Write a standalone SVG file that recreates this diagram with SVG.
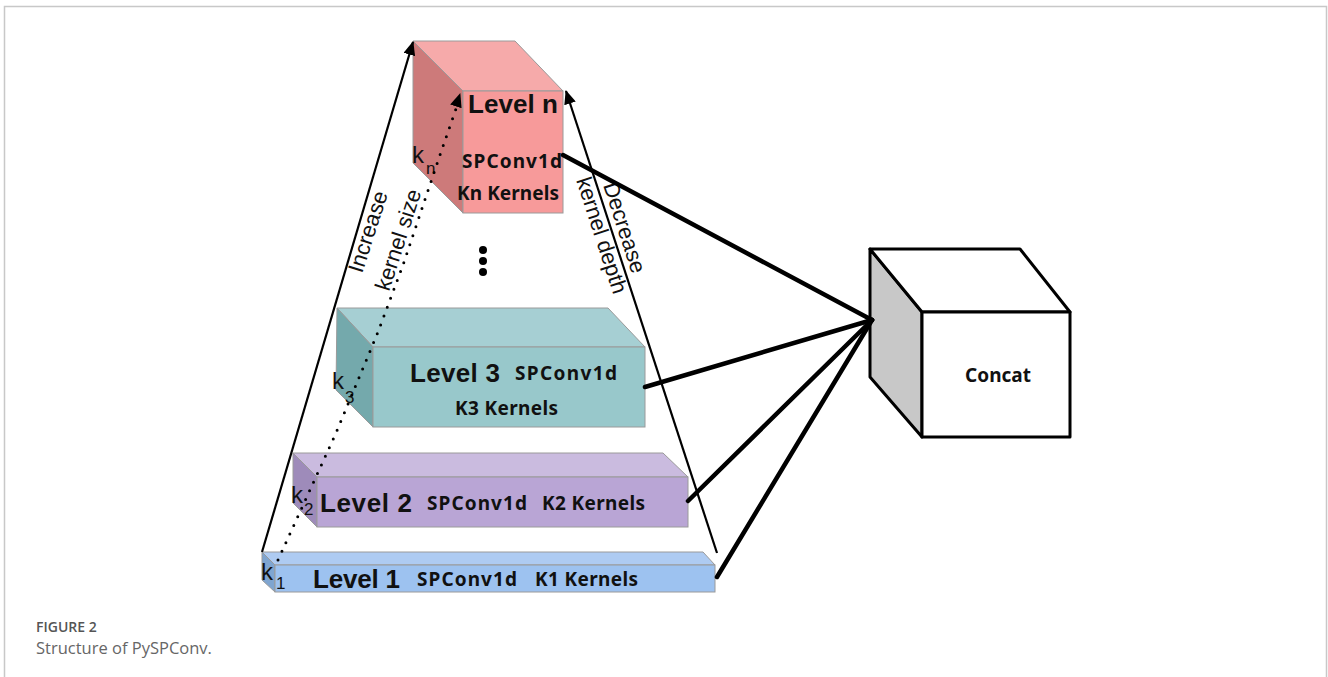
<svg xmlns="http://www.w3.org/2000/svg" width="1328" height="677" viewBox="0 0 1328 677">
<style>
.lv{font-family:"Liberation Sans",Arial,sans-serif;font-weight:bold;font-size:26px;fill:#111}
.sp{font-family:"Noto Sans","Open Sans",sans-serif;font-weight:bold;font-size:19px;fill:#111}
.k{font-family:"Liberation Sans",Arial,sans-serif;font-size:24px;fill:#111}
.ks{font-family:"Liberation Sans",Arial,sans-serif;font-size:17px;fill:#111}
.rot{font-family:"Liberation Sans",Arial,sans-serif;font-size:22px;fill:#111}
.edge{stroke:#9a9a9a;stroke-width:1}
.conn{stroke:#000;stroke-width:4.5;stroke-linecap:round;fill:none}
.arr{stroke:#000;stroke-width:2.2;fill:none}
.cube{stroke:#000;stroke-width:3;stroke-linejoin:round}
</style>
<defs>
<marker id="ah" markerUnits="userSpaceOnUse" viewBox="0 0 14 12" refX="13" refY="6" markerWidth="14" markerHeight="12" orient="auto">
<path d="M0,0 L14,6 L0,12 z" fill="#000"/>
</marker>
</defs>
<rect width="1328" height="677" fill="#fff"/>
<path d="M4.5,677 L4.5,6.5 L1326.5,6.5 L1326.5,677" fill="none" stroke="#c8c8c8" stroke-width="1.5"/>

<g id="level1">
<polygon class="edge" points="262,552 703,552 715,565 275,565" fill="#aecbf2"/>
<polygon class="edge" points="262,552 275,565 275,592 262,580" fill="#7fa5d0"/>
<rect class="edge" x="275" y="565" width="440" height="27" fill="#9dc2f0"/>
<text class="lv" x="313" y="588" textLength="87">Level 1</text>
<text class="sp" x="417" y="586" textLength="100">SPConv1d</text>
<text class="sp" x="535" y="586" textLength="103">K1 Kernels</text>
<text class="k" x="261" y="580">k</text><text class="ks" x="276" y="589">1</text>
</g>

<g id="level2">
<polygon class="edge" points="293,453 663,453 688,477 317,477" fill="#cabbdf"/>
<polygon class="edge" points="293,453 317,477 317,527 293,503" fill="#9e8bba"/>
<rect class="edge" x="317" y="477" width="371" height="50" fill="#b9a5d5"/>
<text class="lv" x="320" y="512" textLength="92">Level 2</text>
<text class="sp" x="427" y="510" textLength="100">SPConv1d</text>
<text class="sp" x="542" y="510" textLength="103">K2 Kernels</text>
<text class="k" x="291" y="503">k</text><text class="ks" x="304" y="515">2</text>
</g>

<g id="level3">
<polygon class="edge" points="337,308 608,308 645,347 373,347" fill="#a6cfd3"/>
<polygon class="edge" points="337,308 373,347 373,427 336,390" fill="#74a9ac"/>
<rect class="edge" x="373" y="347" width="272" height="80" fill="#98c8cb"/>
<text class="lv" x="410" y="382" textLength="90">Level 3</text>
<text class="sp" x="515" y="380" textLength="102">SPConv1d</text>
<text class="sp" x="455" y="415" textLength="103">K3 Kernels</text>
<text class="k" x="332" y="389">k</text><text class="ks" x="345" y="403">3</text>
</g>

<g id="leveln">
<polygon class="edge" points="413,41 515,41 563,91 463,91" fill="#f6aaaa"/>
<polygon class="edge" points="413,41 463,91 463,213 413,163" fill="#cd7a7a"/>
<rect class="edge" x="463" y="91" width="100" height="122" fill="#f79a9a"/>
<text class="lv" x="468" y="113" textLength="90">Level n</text>
<text class="sp" x="462" y="168" textLength="100">SPConv1d</text>
<text class="sp" x="457" y="200" textLength="102">Kn Kernels</text>
<text class="k" x="412" y="163">k</text><text class="ks" x="426" y="174">n</text>
</g>

<g id="ellipsis" fill="#000">
<circle cx="483" cy="250" r="4"/>
<circle cx="483" cy="261" r="4"/>
<circle cx="483" cy="272" r="4"/>
</g>

<g id="concat">
<polygon class="cube" points="870,249 922,312 922,437 870,377" fill="#c8c8c8"/>
<polygon class="cube" points="870,249 1020,249 1070,312 922,312" fill="#fff"/>
<rect class="cube" x="922" y="312" width="148" height="125" fill="#fff"/>
<text class="sp" x="998" y="382" text-anchor="middle" font-size="19">Concat</text>
</g>

<g id="axes">
<line class="arr" x1="262" y1="552" x2="413" y2="42" marker-end="url(#ah)"/>
<line class="arr" x1="717" y1="553" x2="566" y2="91" marker-end="url(#ah)"/>
<path d="M278,560 L336,433 L378,332 L403,265 L440,155 L459,100" fill="none" stroke="#000" stroke-width="3" stroke-linecap="round" stroke-dasharray="0 9.5"/>
<line x1="452" y1="118" x2="460" y2="94" stroke="none" marker-end="url(#ah)"/>
<text class="rot" transform="translate(362,274) rotate(-72)">Increase</text>
<text class="rot" transform="translate(389,292) rotate(-72)">kernel size</text>
<text class="rot" transform="translate(603,185) rotate(72)">Decrease</text>
<text class="rot" transform="translate(576,180) rotate(72)">kernel depth</text>
</g>

<g id="connectors">
<line class="conn" x1="563" y1="155" x2="872" y2="320"/>
<line class="conn" x1="645" y1="387" x2="872" y2="320"/>
<line class="conn" x1="688" y1="501" x2="872" y2="320"/>
<line class="conn" x1="717" y1="577" x2="872" y2="320"/>
</g>

<g id="caption">
<text x="36" y="632" font-family="'Open Sans',sans-serif" font-weight="600" font-size="14" fill="#555">FIGURE 2</text>
<text x="36" y="654" font-family="'Open Sans',sans-serif" font-size="16.5" fill="#666">Structure of PySPConv.</text>
</g>
</svg>
